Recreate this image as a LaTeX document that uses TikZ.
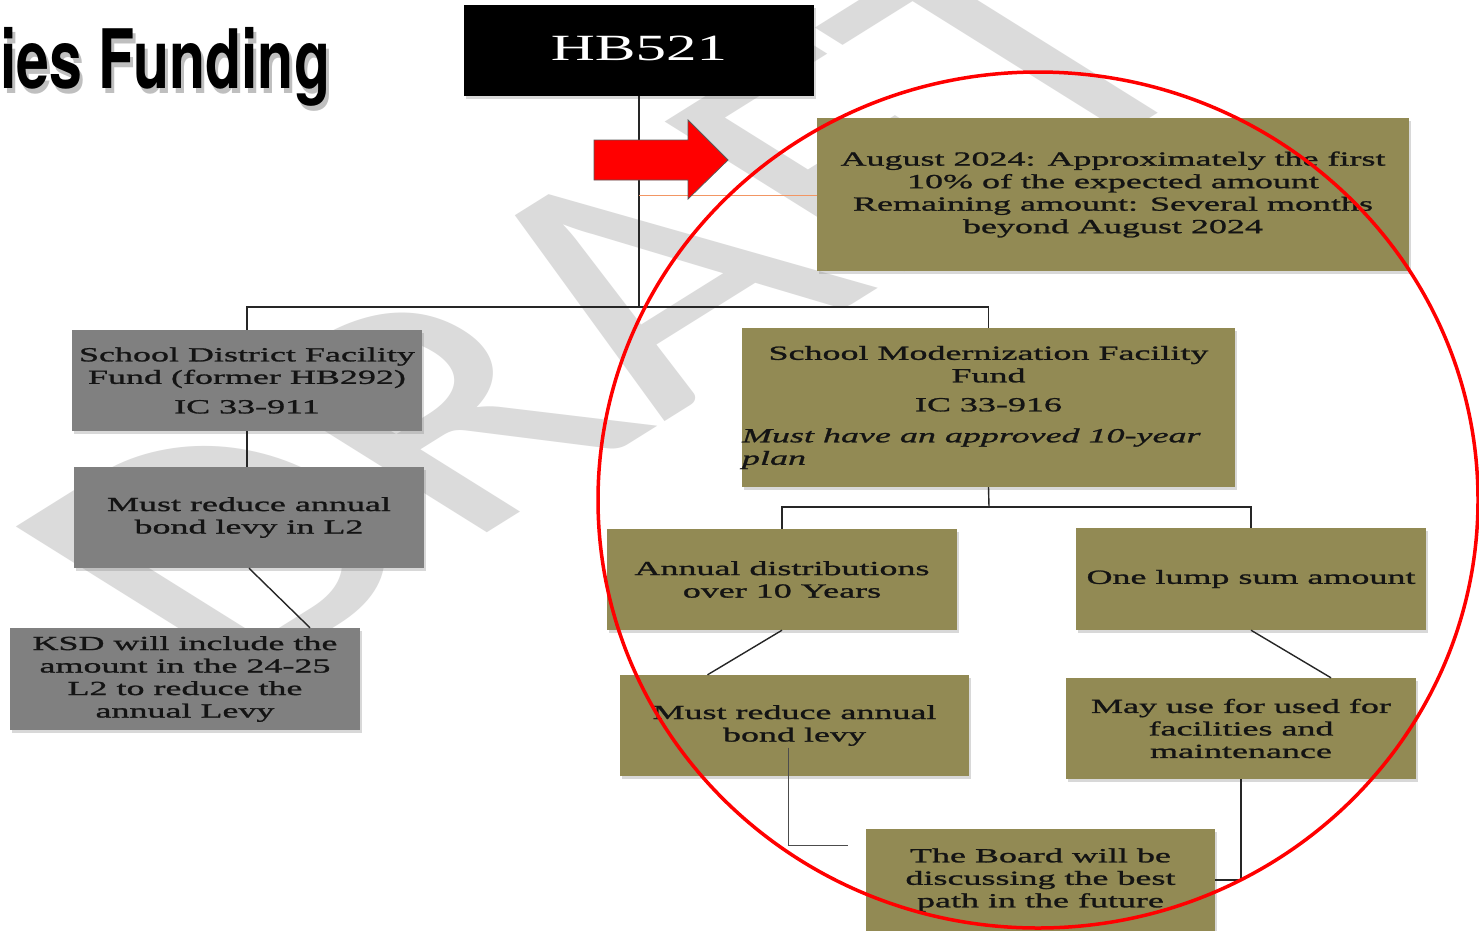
\documentclass[tikz,border=0pt]{standalone}
\usepackage{fontspec}
\usepackage{graphicx}
\setmainfont{Liberation Serif}
\newfontfamily\bxfont{Liberation Serif}[FakeStretch=1.8,FakeBold=1.3]
\newfontfamily\hbfont{Liberation Serif}[FakeStretch=1.65]
\newfontfamily\ttlfont{TeX Gyre Heros}
\newfontfamily\wmfont{Carlito}
\usetikzlibrary{shadows,calc}
\definecolor{boxgray}{RGB}{128,128,128}
\definecolor{boxolive}{RGB}{146,138,84}
\definecolor{wmgray}{RGB}{219,219,219}
\definecolor{lineorange}{RGB}{242,150,100}
\tikzset{
  box/.style={rectangle, inner sep=0pt, align=center,
    font=\bxfont\fontsize{20}{22.5}\selectfont, text=black!92,
    drop shadow={opacity=0.3, shadow xshift=2pt, shadow yshift=-3pt}},
  graybox/.style={box, fill=boxgray},
  olbox/.style={box, fill=boxolive},
  conn/.style={draw=black!85, line width=1.4pt},
  thinconn/.style={draw=black!70, line width=1pt},
}
\begin{document}
\begin{tikzpicture}[x=1pt,y=-1pt]
\useasboundingbox (0,0) rectangle (1479,930);
\fill[white] (0,0) rectangle (1479,930);

% watermark
\begin{scope}[shift={(612,305)}, xscale=1.6, rotate=45]
  \node[font=\wmfont\fontsize{330}{330}\selectfont, text=wmgray, transform shape, inner sep=0pt] (wm) at (0,0) {DRAFT};
\end{scope}

% title
\node[anchor=base west, inner sep=0pt, font=\ttlfont\bfseries\fontsize{82}{82}\selectfont, text=black!45, opacity=0.55] (ttlsh) at (3,93) {\scalebox{0.72}[1]{ies Funding}};
\node[anchor=base west, inner sep=0pt, font=\ttlfont\bfseries\fontsize{82}{82}\selectfont, text=black] (ttl) at (0,88) {\scalebox{0.72}[1]{ies Funding}};

% top node
\node[rectangle, fill=black, minimum width=350pt, minimum height=91pt, inner sep=0pt,
  font=\hbfont\fontsize{37}{40}\selectfont, text=white,
  drop shadow={opacity=0.3, shadow xshift=2pt, shadow yshift=-3pt}] (hb) at (639,50.5) {\raisebox{4pt}{HB521}};

% boxes
\node[olbox, minimum width=592pt, minimum height=153pt] (aug) at (1113,194.5)
  {August 2024: Approximately the first\\10\% of the expected amount\\Remaining amount: Several months\\beyond August 2024};

\node[graybox, minimum width=350pt, minimum height=101pt] (sd1) at (247,380.5)
  {School District Facility\\Fund (former HB292)\\[7pt]IC 33-911};
\node[graybox, minimum width=350pt, minimum height=101pt] (sd2) at (249,517.5)
  {Must reduce annual\\bond levy in L2};
\node[graybox, minimum width=350pt, minimum height=102pt] (sd3) at (185,679)
  {KSD will include the\\amount in the 24-25\\L2 to reduce the\\annual Levy};

\node[olbox, align=none, text width=493pt, minimum height=159pt] (smf) at (988.5,407.5)
  {{\centering School Modernization Facility\\Fund\\[6.5pt]IC 33-916\par}\vspace{8.5pt}{\raggedright\itshape Must have an approved 10-year\\plan\par}};

\node[olbox, minimum width=350pt, minimum height=101pt] (ann) at (782,579.5)
  {Annual distributions\\over 10 Years};
\node[olbox, minimum width=350pt, minimum height=102pt] (lump) at (1251,579)
  {One lump sum amount};
\node[olbox, minimum width=349pt, minimum height=101pt] (mrb) at (794.5,725.5)
  {Must reduce annual\\bond levy};
\node[olbox, minimum width=350pt, minimum height=101pt] (may) at (1241,728.5)
  {May use for used for\\facilities and\\maintenance};
\node[olbox, minimum width=349pt, minimum height=102pt] (board) at (1040.5,880)
  {The Board will be\\discussing the best\\path in the future};

% connectors
\coordinate (j1) at (639,307);
\coordinate (j2) at (989,507);
\draw[conn] (hb.south) -- (j1);
\draw[conn] (sd1.north) |- (j1) -| (smf.north);
\draw[conn] (sd1.south) -- (sd1.south |- sd2.north);
\draw[conn] (sd2.south) -- ($(sd3.north)+(125,0)$);
\draw[conn] (smf.south) -- (j2);
\draw[conn] (ann.north) |- (j2) -| (lump.north);
\draw[conn] (ann.south) -- ($(mrb.north)+(-87,0)$);
\draw[conn] (lump.south) -- ($(may.north)+(90,0)$);
\coordinate (m1) at ($(mrb.center)+(-6,22)$);
\coordinate (m2) at ($(board.west)+(-18,-35)$);
\draw[thinconn] (m1) |- (m2);
\draw[conn] (may.south) |- (board.east);

% orange line and red arrow
\coordinate (o1) at (639,195);
\draw[lineorange, line width=0.9pt] (o1) -- (aug.west |- o1);
\draw[fill=red, draw=black!65, line width=0.8pt]
  (594,140) -- (688,140) -- (688,120) -- (728,160) -- (688,199) -- (688,180) -- (594,180) -- cycle;

% red ellipse
\draw[red, line width=3.5pt] (1038,500) ellipse [x radius=440pt, y radius=428pt];
\end{tikzpicture}
\end{document}
